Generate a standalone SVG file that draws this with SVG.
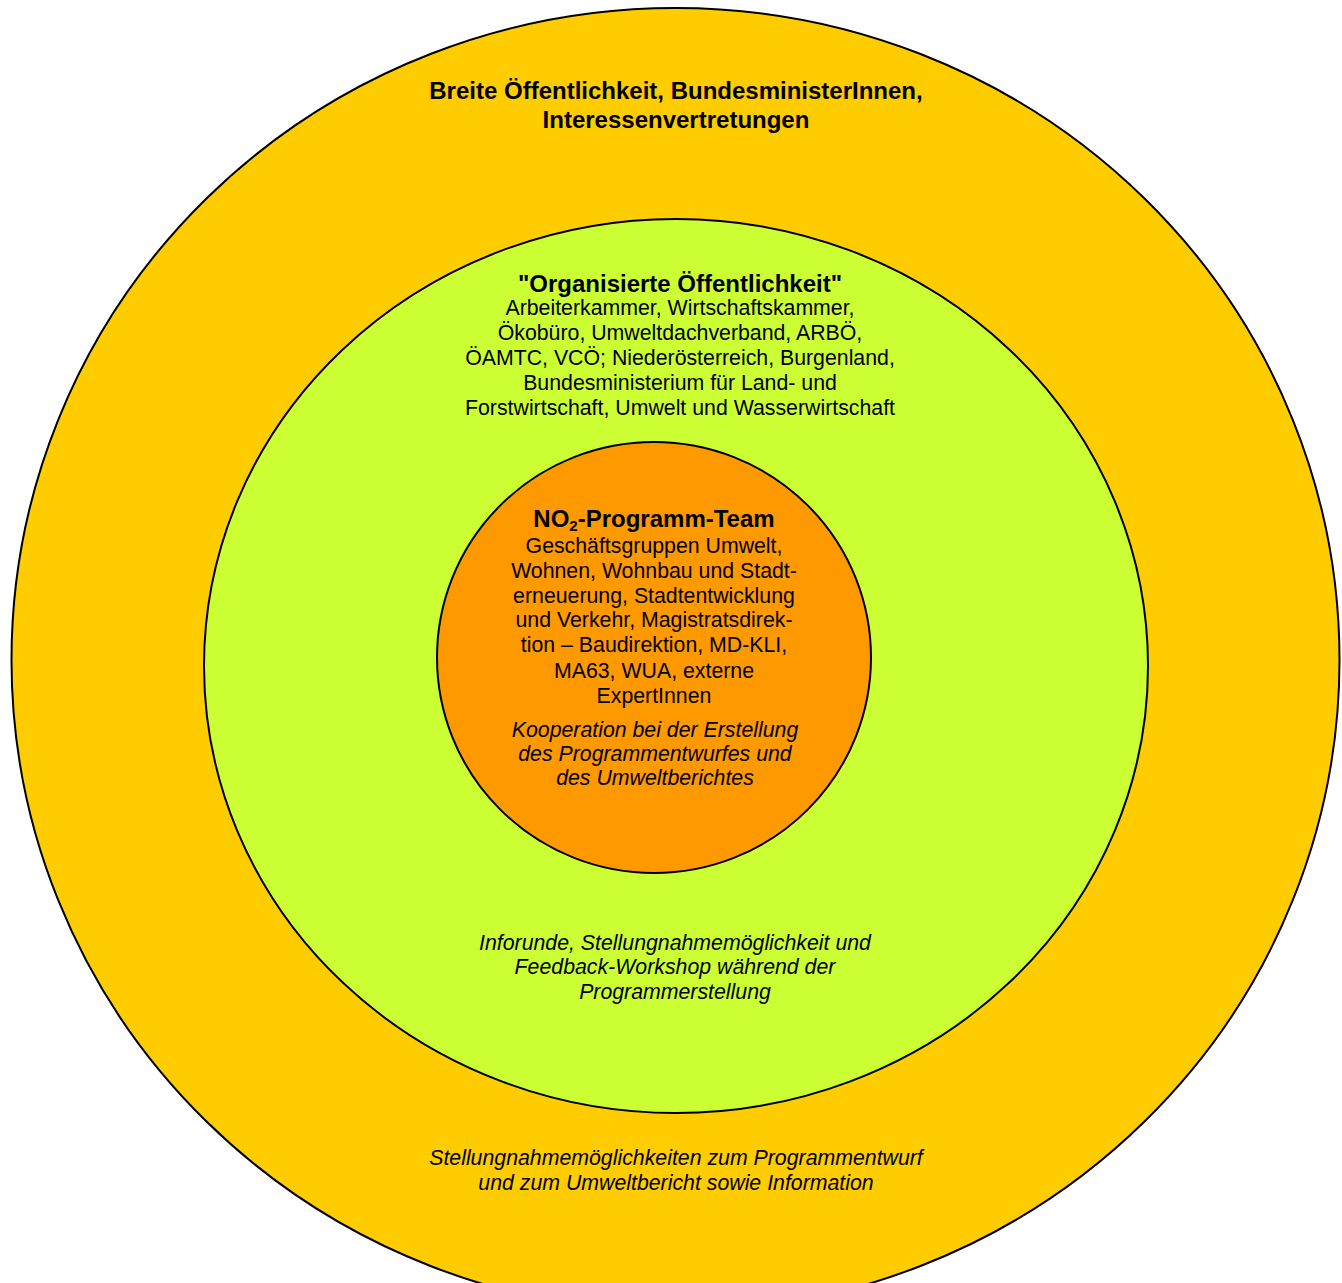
<svg xmlns="http://www.w3.org/2000/svg" width="1342" height="1283" viewBox="0 0 1342 1283">
<style>
.ring{stroke:#000;stroke-width:2}
text{font-family:"Liberation Sans",Arial,sans-serif;fill:#000;text-anchor:middle}
.h{font-weight:bold;font-size:24px}
.b{font-size:21.3px}
.i{font-size:21.3px;font-style:italic}
</style>
<rect width="1342" height="1283" fill="#fff"/>
<g id="outer">
<ellipse class="ring" cx="675.5" cy="660" rx="664" ry="652" fill="#FFCC00"/>
<text class="h" x="676" y="99">Breite Öffentlichkeit, BundesministerInnen,</text>
<text class="h" x="676" y="128">Interessenvertretungen</text>
<text class="i" x="676" y="1165">Stellungnahmemöglichkeiten zum Programmentwurf</text>
<text class="i" x="676" y="1190">und zum Umweltbericht sowie Information</text>
</g>
<g id="middle">
<ellipse class="ring" cx="676" cy="666" rx="472" ry="447" fill="#CCFF33"/>
<text class="h" x="680" y="292">"Organisierte Öffentlichkeit"</text>
<text class="b" x="680" y="315">Arbeiterkammer, Wirtschaftskammer,</text>
<text class="b" x="680" y="340">Ökobüro, Umweltdachverband, ARBÖ,</text>
<text class="b" x="680" y="365">ÖAMTC, VCÖ; Niederösterreich, Burgenland,</text>
<text class="b" x="680" y="390">Bundesministerium für Land- und</text>
<text class="b" x="680" y="415">Forstwirtschaft, Umwelt und Wasserwirtschaft</text>
<text class="i" x="675" y="950">Inforunde, Stellungnahmemöglichkeit und</text>
<text class="i" x="675" y="974">Feedback-Workshop während der</text>
<text class="i" x="675" y="999">Programmerstellung</text>
</g>
<g id="inner">
<ellipse class="ring" cx="654" cy="657.5" rx="217" ry="215.5" fill="#FF9900"/>
<text class="h" x="654" y="527">NO<tspan font-size="15" dy="4">2</tspan><tspan dy="-4">-Programm-Team</tspan></text>
<text class="b" x="654" y="553">Geschäftsgruppen Umwelt,</text>
<text class="b" x="654" y="578">Wohnen, Wohnbau und Stadt-</text>
<text class="b" x="654" y="603">erneuerung, Stadtentwicklung</text>
<text class="b" x="654" y="627">und Verkehr, Magistratsdirek-</text>
<text class="b" x="654" y="652">tion – Baudirektion, MD-KLI,</text>
<text class="b" x="654" y="678">MA63, WUA, externe</text>
<text class="b" x="654" y="703">ExpertInnen</text>
<text class="i" x="655" y="737">Kooperation bei der Erstellung</text>
<text class="i" x="655" y="761">des Programmentwurfes und</text>
<text class="i" x="655" y="785">des Umweltberichtes</text>
</g>
</svg>
